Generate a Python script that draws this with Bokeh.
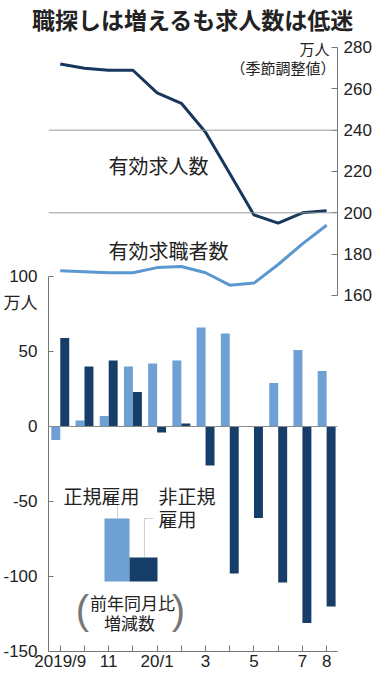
from bokeh.plotting import figure
from bokeh.models import (Range1d, LinearAxis, FixedTicker, Label, BoxAnnotation,
                          PolyAnnotation, Span, ColumnDataSource, Title)
from bokeh.embed import file_html
from bokeh.resources import INLINE
import numpy as np

# ---- data ----
months = ["2019/9", "10", "11", "12", "20/1", "2", "3", "4", "5", "6", "7", "8"]
tick_labels = ["2019/9", "", "11", "", "20/1", "", "3", "", "5", "", "7", "8"]
job_openings = [272, 270, 269, 269, 258, 253, 239, 219, 199, 195, 200, 201]   # 有効求人数
job_seekers = [172, 171.5, 171, 171, 173.5, 174, 171, 165, 166, 175, 185, 194]  # 有効求職者数
regular = [-9, 4, 7, 40, 42, 44, 66, 62, 0, 29, 51, 37]            # 正規雇用
nonregular = [59, 40, 44, 23, -4, 2, -26, -98, -61, -104, -131, -120]  # 非正規雇用
top_ticks = [160, 180, 200, 220, 240, 260, 280]
bottom_ticks = [-150, -100, -50, 0, 50, 100]
bottom_tick_text = {-150: "-150", -100: "-100", -50: "-50", 0: "0", 50: "50", 100: "100"}
unit_label_pos = 82  # where the "万人" unit sits on the left axis

# ---- style ----
NUM = "'Liberation Sans', 'Noto Sans CJK JP', sans-serif"
JP = "'Noto Sans CJK JP', sans-serif"
LIGHT = "#6ea0d3"
DARK = "#163e69"
LINE_DARK = "#17375c"
LINE_LIGHT = "#5b97d0"
AXIS = "#777777"
TXT = "#222222"

idx = np.arange(len(months))

p = figure(width=380, height=686, output_backend="svg", toolbar_location=None,
           x_range=Range1d(-0.486, 11.449), y_range=Range1d(-150, 261.33),
           min_border_left=47, min_border_right=43, min_border_top=34, min_border_bottom=35)
p.extra_y_ranges = {"top": Range1d(-12.26, 286.29)}
p.outline_line_color = None
p.background_fill_color = "white"
p.grid.visible = False
p.xaxis.visible = False
p.yaxis.visible = False

p.add_layout(Title(text="職探しは増えるも求人数は低迷", align="center",
                   text_font=NUM, text_font_size="23px", text_font_style="bold",
                   text_color=TXT, standoff=2, offset=-2), "above")

# horizontal guides of upper chart
for v in (240, 200):
    p.add_layout(Span(location=v, dimension="width", y_range_name="top",
                      line_color="#9a9a9a", line_width=1))
# zero line of bar chart
p.add_layout(Span(location=0, dimension="width", line_color="#8a8a8a", line_width=1))

# bars
bar_w = 0.37
src = ColumnDataSource(dict(xl=idx - 0.185, xr=idx + 0.185, reg=regular, non=nonregular))
p.vbar(x="xl", top="reg", bottom=0, width=bar_w, source=src, fill_color=LIGHT, line_color=None)
p.vbar(x="xr", top="non", bottom=0, width=bar_w, source=src, fill_color=DARK, line_color=None)

# lines
p.line(idx, job_openings, y_range_name="top", line_color=LINE_DARK, line_width=3)
p.line(idx, job_seekers, y_range_name="top", line_color=LINE_LIGHT, line_width=3)

# axes
bx = LinearAxis(ticker=FixedTicker(ticks=list(idx)),
                major_label_overrides={int(i): t for i, t in zip(idx, tick_labels)})
bx.axis_line_color = AXIS
bx.major_tick_line_color = AXIS
bx.major_tick_in = 6
bx.major_tick_out = 0
bx.minor_tick_line_color = None
bx.major_label_standoff = 0
bx.major_label_text_font = NUM
bx.major_label_text_font_size = "17px"
bx.major_label_text_color = TXT
p.add_layout(bx, "below")

overrides = dict(bottom_tick_text)
overrides[unit_label_pos] = "万人"
ly = LinearAxis(ticker=FixedTicker(ticks=bottom_ticks + [unit_label_pos], minor_ticks=bottom_ticks),
                bounds=(-150, 100), major_label_overrides=overrides)
ly.axis_line_color = AXIS
ly.major_tick_line_color = None
ly.minor_tick_line_color = AXIS
ly.minor_tick_in = 5
ly.minor_tick_out = 0
ly.major_label_standoff = 5
ly.major_label_text_font = NUM
ly.major_label_text_font_size = "17px"
ly.major_label_text_color = TXT
p.add_layout(ly, "left")

ry = LinearAxis(y_range_name="top", ticker=FixedTicker(ticks=top_ticks), bounds=(160, 280))
ry.axis_line_color = AXIS
ry.major_tick_line_color = AXIS
ry.major_tick_in = 6
ry.major_tick_out = 0
ry.minor_tick_line_color = None
ry.major_label_standoff = 6
ry.major_label_text_font = NUM
ry.major_label_text_font_size = "17px"
ry.major_label_text_color = TXT
p.add_layout(ry, "right")

# ---- texts (screen units relative to frame: x from left, y from bottom) ----
def lab(text, x, y, size, align="left", bold=False, font=JP, color=TXT):
    p.add_layout(Label(x=x, y=y, x_units="screen", y_units="screen", text=text,
                       text_font=font, text_font_size=f"{size}px", text_color=color,
                       text_align=align, text_baseline="middle",
                       text_font_style="bold" if bold else "normal"))

lab("万人", 281, 603, 15, align="right")
lab("（季節調整値）", 287, 584, 15, align="right")
lab("有効求人数", 60, 486, 20)
lab("有効求職者数", 60, 401, 20)
lab("正規雇用", 15, 156, 19)
lab("非正規", 110, 156, 19)
lab("雇用", 110, 133, 19)
lab("前年同月比", 84, 49, 17, align="center")
lab("増減数", 81, 29, 17, align="center")
lab("(", 34, 42, 40, align="center", font="'Liberation Sans', sans-serif", color="#777777")
lab(")", 130, 42, 40, align="center", font="'Liberation Sans', sans-serif", color="#777777")

# legend swatches
p.add_layout(BoxAnnotation(left=56, right=81, top=133, bottom=70,
                           left_units="screen", right_units="screen",
                           top_units="screen", bottom_units="screen",
                           fill_color=LIGHT, fill_alpha=1, line_color=None))
p.add_layout(BoxAnnotation(left=81, right=109, top=94, bottom=70,
                           left_units="screen", right_units="screen",
                           top_units="screen", bottom_units="screen",
                           fill_color=DARK, fill_alpha=1, line_color=None))
for xs, ys in (([69, 69], [146, 133]), ([96, 96], [94, 133]), ([96, 105], [133, 133])):
    p.add_layout(PolyAnnotation(xs=xs, ys=ys, xs_units="screen", ys_units="screen",
                                fill_alpha=0, line_color="#666666", line_width=1))

open("out.html", "w").write(file_html(p, INLINE))
